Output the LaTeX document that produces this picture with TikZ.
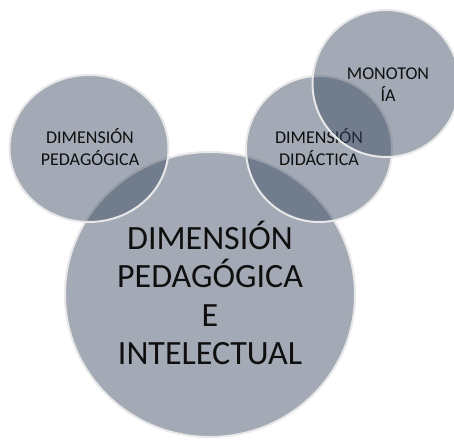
\documentclass[tikz,border=0pt]{standalone}
\usepackage{fontspec}
\setmainfont{Carlito}
\usetikzlibrary{shapes.geometric}
\definecolor{circfill}{RGB}{54,69,93}
\definecolor{circline}{RGB}{232,232,232}
\definecolor{txt}{RGB}{15,15,15}
\tikzset{
  bubble/.style={ellipse, inner sep=0pt, outer sep=0pt, fill=circfill, fill opacity=0.46,
    draw=circline, line width=2pt},
  smalltxt/.style={anchor=south, align=center, inner sep=0pt, text=txt,
    font=\fontsize{18}{21.8}\selectfont},
  bigtxt/.style={anchor=south, align=center, inner sep=0pt, text=txt,
    font=\fontsize{34}{38.3}\selectfont}
}
\begin{document}
\begin{tikzpicture}[x=1pt,y=1pt]
\useasboundingbox (0,0) rectangle (454,439);
\node[bubble, minimum width=290pt, minimum height=285pt] (big) at (210,144.5) {};
\node[bubble, minimum width=159pt, minimum height=147pt] (ped) at (89,290.5) {};
\node[smalltxt] (pedt) at (90,273) {DIMENSIÓN\\PEDAGÓGICA};
\node[bubble, minimum width=146pt, minimum height=146pt] (did) at (319,290) {};
\node[smalltxt] (didt) at (319,273) {DIMENSIÓN\\DIDÁCTICA};
\node[bubble, minimum width=147pt, minimum height=147pt] (mon) at (386,355.5) {};
\node[smalltxt] (mont) at (388,337) {MONOTON\\ÍA};
\node[bigtxt] (bigt) at (210,74) {DIMENSIÓN\\PEDAGÓGICA\\E\\INTELECTUAL};
\end{tikzpicture}
\end{document}
